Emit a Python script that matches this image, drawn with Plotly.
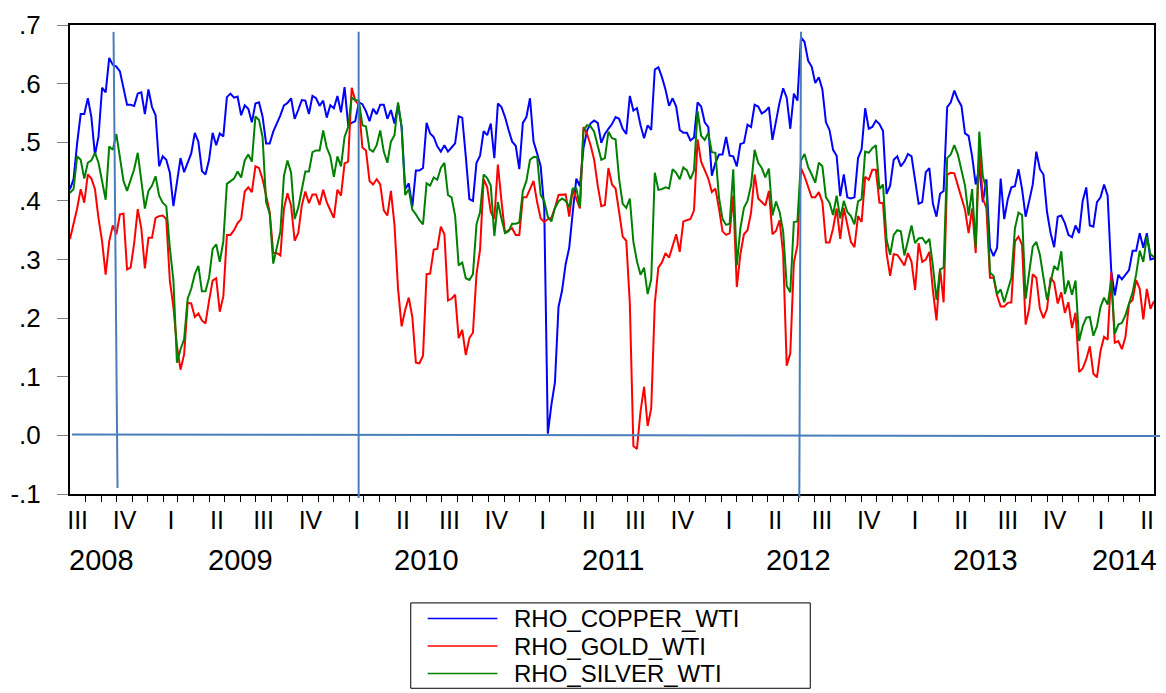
import pandas as pd
import plotly.graph_objects as go

# ---------------- data (weekly) ----------------
START = "2008-08-01"

copper = [
    .42, .437, .498, .548, .548, .575, .543, .478, .51, .593, .585, .644, .632, .629, .621, .593, .564, .564, .562, .583,
    .585, .548, .590, .56, .546, .459, .476, .47, .448, .391, .431, .473, .449, .465, .481, .516, .501, .451, .445,
    .47, .516, .495, .515, .51, .577, .583, .576, .578, .546, .563, .557, .534, .566, .568, .544, .498, .498, .518, .531,
    .546, .563, .567, .575, .54, .555, .572, .571, .548, .579, .575, .562, .571, .542, .563, .558, .579, .551,
    .594, .53, .533, .536, .568, .565, .553, .536, .557, .548, .564, .564, .54, .555, .532, .564, .526, .42, .43, .39,
    .452, .452, .456, .533, .515, .509, .493, .484, .495, .484, .491, .498, .544, .542, .476, .403, .4,
    .465, .477, .519, .512, .532, .473, .566, .56, .543, .521, .501, .494, .454, .533, .543, .575, .501, .481, .459, .387,
    .003, .052, .091, .219, .247, .292, .32, .381, .438, .425, .49, .52, .532, .537, .533, .499, .514, .523,
    .531, .543, .54, .523, .514, .579, .554, .558, .529, .507, .529, .521, .624, .628, .611, .59, .562, .575, .561, .521,
    .516, .516, .503, .508, .568, .561, .534, .526, .443, .465, .479, .479, .509, .477, .476, .459, .497, .499,
    .53, .526, .564, .561, .549, .553, .56, .504, .537, .568, .592, .576, .523, .583, .571, .679, .671, .639, .629, .601,
    .611, .59, .534, .521, .487, .477, .408, .445, .406, .404, .406, .473, .488, .558, .523, .526, .537, .531,
    .519, .412, .426, .47, .476, .459, .467, .48, .476, .431, .395, .398, .449, .456, .395, .373, .412, .417, .56, .568,
    .588, .573, .562, .515, .511, .476, .428, .457, .398, .437, .32, .306, .32, .438, .369, .403, .423, .425,
    .454, .42, .373, .4, .428, .484, .454, .445, .381, .345, .321, .373, .375, .362, .342, .338, .358, .345, .4, .423,
    .358, .356, .398, .406, .428, .409, .281, .239, .274, .266, .275, .282, .315, .315, .345, .32, .345, .3, .302,
]

gold = [
    .335, .359, .387, .42, .397, .445, .438, .42, .37, .331, .274, .331, .358, .343, .377, .378, .283, .286, .328, .386,
    .353, .285, .337, .337, .371, .374, .375, .369, .264, .219, .152, .112, .138, .226, .225, .202, .208, .196, .191,
    .23, .264, .268, .211, .237, .342, .342, .35, .362, .369, .416, .423, .415, .459, .456, .437, .409, .381, .311, .311,
    .307, .387, .413, .392, .332, .345, .392, .416, .396, .411, .411, .393, .419, .398, .384, .371, .419, .409,
    .464, .467, .593, .571, .564, .491, .486, .434, .428, .437, .428, .384, .375, .417, .359, .25, .186, .214, .235, .202,
    .124, .123, .136, .275, .276, .317, .318, .356, .343, .23, .233, .24, .166, .18, .137, .166, .175,
    .275, .317, .437, .423, .381, .369, .462, .4, .345, .35, .353, .342, .342, .406, .406, .42, .434, .398, .37, .364,
    .369, .371, .388, .41, .411, .411, .373, .42, .404, .387, .526, .514, .495, .47, .426, .391, .393, .456,
    .428, .421, .381, .339, .332, .225, -.018, -.023, .041, .083, .016, .046, .225, .286, .295, .311, .303, .325, .343, .313,
    .365, .367, .369, .384, .505, .467, .454, .438, .415, .421, .387, .348, .342, .345, .409, .253, .309, .343,
    .35, .38, .445, .404, .398, .392, .417, .343, .349, .367, .309, .119, .14, .295, .324, .456, .442, .425, .406, .406,
    .415, .398, .329, .329, .353, .387, .335, .388, .358, .33, .321, .374, .364, .441, .436, .453, .453, .397,
    .396, .311, .272, .309, .308, .298, .29, .311, .296, .248, .328, .296, .3, .313, .247, .196, .284, .227, .445, .448,
    .447, .426, .403, .385, .345, .387, .311, .49, .404, .388, .269, .269, .238, .22, .22, .226, .227, .331,
    .339, .325, .189, .216, .275, .269, .216, .2, .216, .269, .261, .225, .244, .209, .227, .183, .209, .108, .114, .13,
    .152, .105, .099, .144, .168, .163, .278, .158, .161, .147, .168, .225, .231, .265, .25, .198, .25, .216, .229,
]

silver = [
    .414, .42, .476, .47, .438, .465, .469, .482, .465, .431, .402, .493, .487, .514, .476, .434, .417, .437, .454, .482,
    .431, .387, .417, .426, .442, .409, .397, .391, .32, .264, .124, .147, .164, .233, .25, .275, .289, .246, .246,
    .269, .318, .326, .296, .331, .429, .434, .438, .45, .44, .469, .479, .467, .544, .538, .509, .398, .378, .293, .32,
    .348, .443, .469, .448, .369, .388, .417, .45, .45, .483, .486, .486, .52, .491, .476, .441, .476, .459,
    .509, .526, .576, .572, .571, .529, .527, .488, .484, .495, .52, .484, .465, .501, .512, .568, .526, .41, .42, .385,
    .377, .367, .36, .43, .426, .44, .436, .456, .465, .41, .406, .375, .29, .295, .268, .265, .275,
    .36, .381, .445, .439, .426, .34, .398, .37, .345, .348, .361, .361, .363, .417, .434, .47, .475, .475, .41, .4,
    .373, .365, .388, .399, .404, .4, .389, .421, .421, .39, .52, .529, .527, .518, .495, .47, .473, .518,
    .507, .505, .437, .395, .388, .404, .33, .297, .274, .286, .241, .266, .448, .419, .42, .423, .421, .454, .448, .437,
    .457, .452, .437, .452, .553, .511, .504, .516, .483, .482, .406, .369, .359, .361, .454, .29, .353, .388,
    .40, .427, .487, .465, .456, .44, .455, .375, .399, .381, .348, .255, .244, .364, .365, .469, .48, .458, .445, .431,
    .465, .459, .406, .397, .376, .409, .37, .4, .381, .374, .36, .399, .403, .484, .482, .49, .495, .42,
    .428, .334, .308, .342, .35, .348, .307, .331, .358, .328, .336, .337, .328, .335, .289, .231, .283, .286, .473, .479,
    .495, .479, .454, .426, .375, .42, .321, .518, .442, .42, .278, .272, .241, .249, .227, .247, .269, .353,
    .38, .376, .233, .278, .322, .33, .308, .269, .231, .261, .289, .282, .314, .241, .264, .24, .264, .161, .186, .201,
    .202, .17, .186, .219, .235, .223, .264, .173, .189, .192, .205, .225, .244, .275, .315, .296, .339, .309, .304,
]

series_names = ["RHO_COPPER_WTI", "RHO_GOLD_WTI", "RHO_SILVER_WTI"]
series_colors = ["#0000FF", "#FF0000", "#008000"]
quarter_names = ["I", "II", "III", "IV"]
y_ticks = [-0.1, 0.0, 0.1, 0.2, 0.3, 0.4, 0.5, 0.6, 0.7]
y_tick_text = ["-.1", ".0", ".1", ".2", ".3", ".4", ".5", ".6", ".7"]

FONT = "Liberation Sans, Arial, sans-serif"

# ---------------- derived axis helpers ----------------
dates = pd.date_range(START, periods=len(copper), freq="7D")
x0, x1 = dates[0], dates[-1]

q_starts = pd.date_range("2008-07-01", "2014-07-01", freq="QS")
q_bounds = [d for d in q_starts if x0 < d < x1]
months = [d for d in pd.date_range("2008-07-01", "2014-07-01", freq="MS") if x0 < d < x1]
q_mids, q_text = [], []
for a, b in zip(q_starts[:-1], q_starts[1:]):
    m = a + (b - a) / 2
    if x0 <= m <= x1:
        q_mids.append(m)
        q_text.append(quarter_names[(a.month - 1) // 3])

# year label positions: centred over the labelled quarters of each year
year_pos = {}
for a, b in zip(q_starts[:-1], q_starts[1:]):
    m = a + (b - a) / 2
    if x0 <= m <= x1:
        lo, hi = year_pos.get(a.year, (a, b))
        year_pos[a.year] = (min(lo, a), max(hi, b))

# ---------------- figure ----------------
L, R, T, B = 68, 10, 16, 199
W, H = 1166, 693
PW, PH = W - L - R, H - T - B


def px(xp):
    return (xp - L) / PW


def py(yp):
    return (H - B - yp) / PH


fig = go.Figure()
for name, vals, col in zip(series_names, [copper, gold, silver], series_colors):
    fig.add_trace(go.Scatter(x=dates, y=vals, mode="lines", name=name,
                             line=dict(color=col, width=2), showlegend=False,
                             hoverinfo="x+y+name"))
# empty trace so the label-only overlay axis exists
fig.add_trace(go.Scatter(x=[], y=[], xaxis="x2", showlegend=False, hoverinfo="skip"))

fig.update_layout(
    width=W, height=H,
    margin=dict(l=L, r=R, t=T, b=B, pad=0),
    paper_bgcolor="white", plot_bgcolor="white",
    font=dict(family=FONT, color="black"),
    showlegend=False,
    xaxis=dict(
        type="date", range=[x0, x1], showgrid=False, zeroline=False,
        showline=True, linecolor="black", linewidth=2, mirror=True,
        tickmode="array", tickvals=q_bounds, ticktext=[""] * len(q_bounds),
        ticks="outside", ticklen=11, tickwidth=1, tickcolor="black",
        minor=dict(tickmode="array", tickvals=months, ticks="outside",
                   ticklen=6, tickwidth=1, tickcolor="black", showgrid=False),
    ),
    xaxis2=dict(
        type="date", range=[x0, x1], overlaying="x", anchor="y", side="bottom",
        showgrid=False, zeroline=False, showline=False,
        tickmode="array", tickvals=q_mids, ticktext=q_text, ticks="",
        tickfont=dict(family=FONT, size=25, color="black"),
        ticklabelstandoff=9,
    ),
    yaxis=dict(
        range=[-0.1, 0.7], showgrid=False, zeroline=False,
        showline=True, linecolor="black", linewidth=2, mirror=True,
        tickmode="array", tickvals=y_ticks, ticktext=y_tick_text,
        ticks="outside", ticklen=11, tickwidth=1, tickcolor="#808080",
        tickfont=dict(family=FONT, size=26, color="black"),
        ticklabelstandoff=11,
    ),
)

# year labels
for yr, (a, b) in year_pos.items():
    fig.add_annotation(x=a + (b - a) / 2, xref="x", y=py(561), yref="paper",
                       text=str(yr), showarrow=False, xanchor="center", yanchor="middle",
                       font=dict(family=FONT, size=29, color="black"))

# hand-drawn reference lines (steel blue)
ref = dict(color="#4A7EBB", width=2)
fig.add_shape(type="line", xref="paper", yref="paper", x0=px(111.7), y0=py(23), x1=px(115.7), y1=py(488), line=ref)
fig.add_shape(type="line", xref="paper", yref="paper", x0=px(357.7), y0=py(23), x1=px(357.7), y1=py(498), line=ref)
fig.add_shape(type="line", xref="paper", yref="paper", x0=px(801.7), y0=py(23), x1=px(800.0), y1=py(498), line=ref)
fig.add_shape(type="line", xref="paper", yref="paper", x0=px(70), y0=py(433.3), x1=px(1162), y1=py(435), line=ref)

# legend box (drawn below the chart, EViews style)
fig.add_shape(type="rect", xref="paper", yref="paper", x0=px(410), y0=py(605), x1=px(811), y1=py(692),
              line=dict(color="black", width=1), fillcolor="white")
for k, (name, col) in enumerate(zip(series_names, series_colors)):
    yc = 621 + 28 * k
    fig.add_shape(type="line", xref="paper", yref="paper", x0=px(427), x1=px(497), y0=py(yc), y1=py(yc),
                  line=dict(color=col, width=1.5))
    fig.add_annotation(x=px(512), y=py(yc), xref="paper", yref="paper", text=name, showarrow=False,
                       xanchor="left", yanchor="middle", font=dict(family=FONT, size=24, color="black"))

fig.write_html("out.html")
